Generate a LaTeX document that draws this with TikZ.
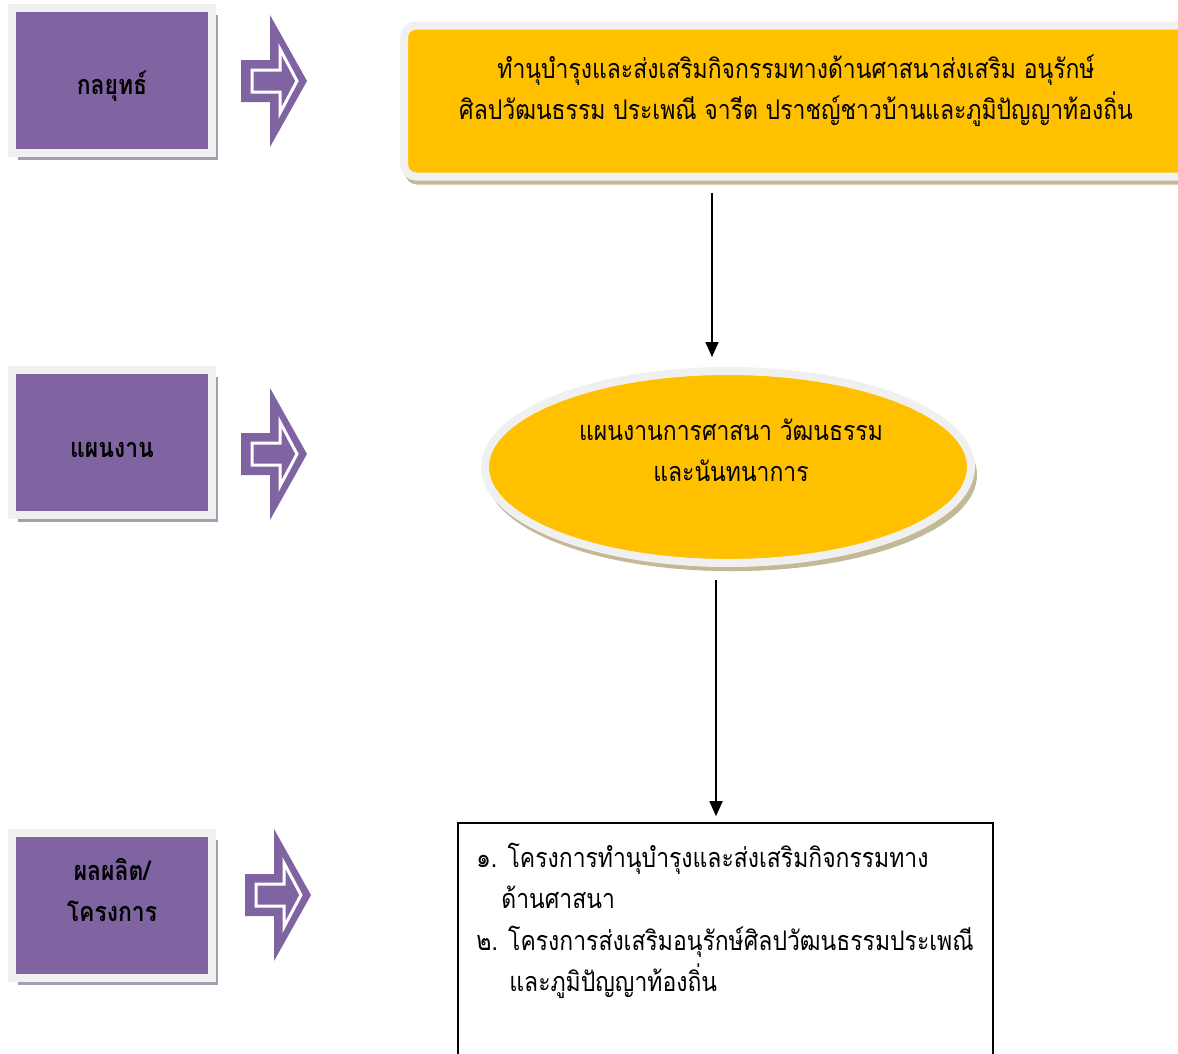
\documentclass[tikz,border=0pt]{standalone}
\usepackage{fontspec}
\newfontfamily\thaifont[Script=Thai,FakeStretch=0.85]{Loma}
\usetikzlibrary{positioning,shadows,calc,arrows.meta,shapes.geometric}

\definecolor{boxpurple}{HTML}{8064A2}
\definecolor{boxgold}{HTML}{FFC000}
\definecolor{framegray}{HTML}{F0F0F0}
\definecolor{purpleshadow}{HTML}{A39EB0}
\definecolor{goldshadow}{HTML}{C4B996}

\tikzset{
  stage/.style={rectangle, fill=boxpurple, draw=framegray, line width=8pt,
    minimum width=200pt, minimum height=145pt, align=center,
    font=\thaifont\bfseries\fontsize{27}{41}\selectfont,
    drop shadow={shadow xshift=6pt, shadow yshift=-7pt, fill=purpleshadow, opacity=1}},
  stagetext/.style={font=\thaifont\bfseries\fontsize{27}{41}\selectfont, inner sep=0pt},
  goldbox/.style={fill=boxgold, draw=framegray, line width=8pt,
    drop shadow={shadow xshift=1pt, shadow yshift=-8pt, fill=goldshadow, opacity=1}},
  thaitext/.style={font=\thaifont\fontsize{27}{41}\selectfont, inner sep=0pt},
  flow/.style={-{Triangle[width=13pt,length=15pt]}, line width=1.8pt},
  >=Triangle
}

\begin{document}
\begin{tikzpicture}[x=1pt,y=-1pt]
  \useasboundingbox (0,0) rectangle (1178,1053);
  \clip (0,0) rectangle (1178,1053);

  % left column
  \node[stage, label={[stagetext, yshift=-6pt]center:กลยุทธ์}] (strategy) at (112,80) {};
  \node[stage, label={[stagetext, yshift=-8pt]center:แผนงาน}] (plan-lbl) at (112,442) {};
  \node[stage] (output) at (112,905) {ผลผลิต/\\โครงการ\\[-24pt]\strut};

  % block arrows
  \foreach \ax/\ay in {241/81,241/454,245/895}{
    \begin{scope}[shift={(\ax,\ay)}]
      \fill[boxpurple] (0,-21) -- (29,-21) -- (29,-66) -- (66,0) -- (29,66) -- (29,21) -- (0,21) -- cycle;
      \draw[white, line width=3pt] (11,-11) -- (39,-11) -- (39,-32) -- (56,0) -- (39,32) -- (39,11) -- (11,11) -- cycle;
    \end{scope}
  }

  % strategy box
  \node[goldbox, rectangle, rounded corners=12pt, minimum width=796pt, minimum height=151pt] (goal) at (802,101) {};
  \node[thaitext, align=center] (goaltext) at (796,91)
    {ทำนุบำรุงและส่งเสริมกิจกรรมทางด้านศาสนาส่งเสริม อนุรักษ์\\ศิลปวัฒนธรรม ประเพณี จารีต ปราชญ์ชาวบ้านและภูมิปัญญาท้องถิ่น};

  % plan ellipse
  \node[goldbox, ellipse, minimum width=486pt, minimum height=192pt,
    drop shadow={shadow xshift=6pt, shadow yshift=-8pt, fill=goldshadow, opacity=1}] (plan) at (728,467) {};
  \node[thaitext, align=center] (plantext) at (731,450)
    {แผนงานการศาสนา วัฒนธรรม\\และนันทนาการ};

  % project box
  \node[rectangle, draw=black, line width=1.6pt, minimum width=535pt, minimum height=260pt] (projects) at (725.5,953) {};
  \node[thaitext, align=left, anchor=north west] (projtext) at ($(projects.north west)+(19,21)$)
    {๑. โครงการทำนุบำรุงและส่งเสริมกิจกรรมทาง\\
     \hspace*{25pt}ด้านศาสนา\\[1pt]
     ๒. โครงการส่งเสริมอนุรักษ์ศิลปวัฒนธรรมประเพณี\\
     \hspace*{33pt}และภูมิปัญญาท้องถิ่น};

  \draw[flow] ($(goal.south -| plan.north)+(-16,12)$) -- ($(plan.north)+(-16,-10)$);
  \draw[flow] ($(plan.south)+(-12,13)$) -- ($(plan.south |- projects.north)+(-12,-6)$);
\end{tikzpicture}
\end{document}
